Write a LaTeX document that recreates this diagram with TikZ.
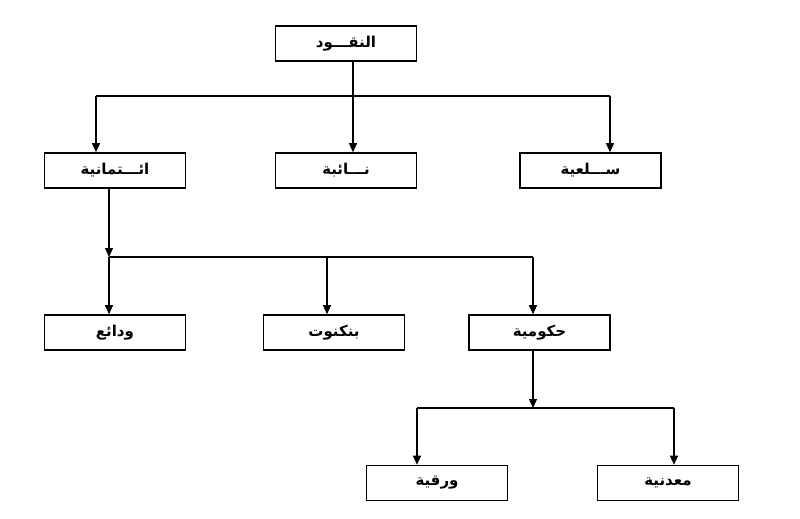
\documentclass[tikz,border=0pt]{standalone}
\usepackage{fontspec}
\newfontfamily\arabicfont[Script=Arabic]{DejaVu Sans}
\TeXXeTstate=1
\usetikzlibrary{arrows.meta}
\newcommand{\ar}[1]{\arabicfont\bfseries\beginR #1\endR}
\begin{document}
\begin{tikzpicture}[x=1pt,y=-1pt,
  box/.style={draw,line width=1.6pt,minimum width=141pt,minimum height=35pt,inner sep=0pt,font=\fontsize{15}{17}\selectfont},
  conn/.style={line width=1.2pt},
  arr/.style={line width=1.2pt,-{Triangle[length=9pt,width=8pt]}}]
\useasboundingbox (0,0) rectangle (800,519);
% boxes
\node[box] (n) at (346,43.5) {\ar{النقـــود}};
\node[box] (e) at (115,170.5) {\ar{ائـــتمانية}};
\node[box] (na) at (346,170.5) {\ar{نـــائبة}};
\node[box] (s) at (590.5,170.5) {\ar{ســـلعية}};
\node[box] (w) at (115,332.5) {\ar{ودائع}};
\node[box] (b) at (334,332.5) {\ar{بنكنوت}};
\node[box] (h) at (539.5,332.5) {\ar{حكومية}};
\node[box] (r) at (437,483) {\ar{ورقية}};
\node[box] (m) at (668,483) {\ar{معدنية}};
% junction coordinates
\coordinate (j1) at (353,96);
\coordinate (j1l) at (96,96);
\coordinate (j1r) at (610,96);
\coordinate (j2) at (109,257);
\coordinate (j2r) at (533,257);
\coordinate (j2m) at (327,257);
\coordinate (j3) at (533,408);
\coordinate (j3l) at (417,408);
\coordinate (j3r) at (674,408);
% level 1
\draw[conn] (j1 |- n.south) -- (j1);
\draw[conn] (j1l) -- (j1r);
\draw[arr] (j1l) -- (j1l |- e.north);
\draw[arr] (j1) -- (j1 |- na.north);
\draw[arr] (j1r) -- (j1r |- s.north);
% level 2
\draw[arr] (j2 |- e.south) -- (j2);
\draw[conn] (j2) -- (j2r);
\draw[arr] (j2) -- (j2 |- w.north);
\draw[arr] (j2m) -- (j2m |- b.north);
\draw[arr] (j2r) -- (j2r |- h.north);
% level 3
\draw[arr] (j3 |- h.south) -- (j3);
\draw[conn] (j3l) -- (j3r);
\draw[arr] (j3l) -- (j3l |- r.north);
\draw[arr] (j3r) -- (j3r |- m.north);
\end{tikzpicture}
\end{document}
